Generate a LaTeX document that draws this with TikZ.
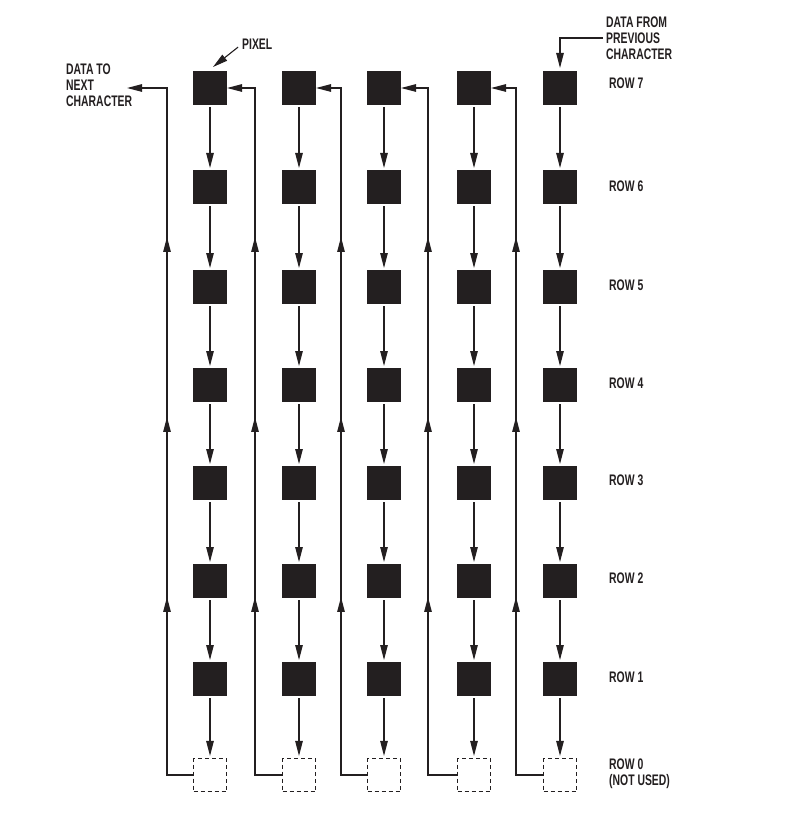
\documentclass[tikz,border=0pt]{standalone}
\usepackage{fontspec}
\setmainfont{Liberation Sans}[FakeStretch=0.68]
\usetikzlibrary{arrows.meta,decorations.markings}
\definecolor{ink}{RGB}{35,31,32}
\begin{document}
\begin{tikzpicture}[x=1pt,y=-1pt,
  pix/.style={draw=none,fill=ink,minimum size=34pt,inner sep=0pt,outer sep=0pt},
  nopix/.style={draw=ink,line width=1.1pt,dash pattern=on 4pt off 3pt,minimum size=33pt,inner sep=0pt},
  lbl/.style={font=\fontsize{15.3}{16}\selectfont\bfseries,text=ink,inner sep=0pt,anchor=west,align=left},
  conn/.style={draw=ink,line width=1.1pt},
  arrowed/.style={-{Triangle[length=15pt,width=7.5pt]}},
  midtips/.style n args={3}{postaction={decorate},decoration={markings,
     mark=at position #1pt with {\arrow{Triangle[length=15pt,width=7.5pt]}},
     mark=at position #2pt with {\arrow{Triangle[length=15pt,width=7.5pt]}},
     mark=at position #3pt with {\arrow{Triangle[length=15pt,width=7.5pt]}}}}
]
\useasboundingbox (0,0) rectangle (786,813);

% pixels
\foreach \c/\x in {1/210,2/299,3/384,4/474,5/560}{
  \foreach \r/\y in {7/88,6/187,5/287,4/385,3/483,2/581,1/679}{
    \node[pix] (p\c-\r) at (\x,\y) {};
  }
  \node[nopix] (p\c-0) at (\x,775) {};
}

% downward shifts
\foreach \c in {1,...,5}{
  \foreach \r/\n in {7/6,6/5,5/4,4/3,3/2,2/1,1/0}{
    \draw[conn,arrowed,shorten <=2pt,shorten >=2pt] (p\c-\r) -- (p\c-\n);
  }
}

% return lines
\coordinate (out) at (127,88);
\foreach \c/\rx/\h/\t in {1/167/26/out,2/255/27/p1-7.east,3/341/26/p2-7.east,4/428/29/p3-7.east,5/516/27/p4-7.east}{
  \coordinate (rb\c) at (\rx,775);
  \coordinate (rt\c) at (\rx,88);
  \pgfmathsetmacro\ma{\h+178}
  \pgfmathsetmacro\mb{\h+358}
  \pgfmathsetmacro\mc{\h+538}
  \draw[conn,arrowed,midtips={\ma}{\mb}{\mc}] (p\c-0.west) -- (rb\c) -- (rt\c) -- (\t);
}

% labels
\node[lbl] (din) at (606,38) {DATA FROM\\PREVIOUS\\CHARACTER};
\draw[conn,arrowed,shorten <=3pt,shorten >=3pt] (din.west) -| (p5-7.north);

\node[lbl] (dout) at (66,85) {DATA TO\\NEXT\\CHARACTER};

\node[lbl] (plab) at (242,44) {PIXEL};
\coordinate (ptgt) at (213,67);
\draw[conn,arrowed,shorten <=5pt] (plab.west) -- (ptgt);

\node[lbl] (row7) at (609,83) {ROW 7};
\node[lbl] (row6) at (609,186) {ROW 6};
\node[lbl] (row5) at (609,285) {ROW 5};
\node[lbl] (row4) at (609,383) {ROW 4};
\node[lbl] (row3) at (609,480) {ROW 3};
\node[lbl] (row2) at (609,578) {ROW 2};
\node[lbl] (row1) at (609,677) {ROW 1};
\node[lbl] (row0) at (609,774) {ROW 0\\(NOT USED)};
\end{tikzpicture}
\end{document}
